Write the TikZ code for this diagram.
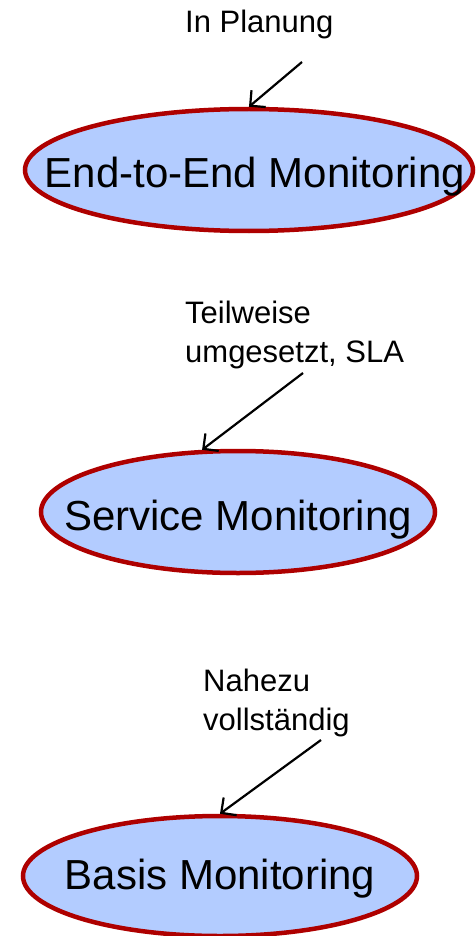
\documentclass[tikz,border=0pt]{standalone}
\usepackage{fontspec}
\setmainfont{Liberation Sans}
\usetikzlibrary{shapes.geometric,arrows.meta}
\definecolor{stagefill}{RGB}{179,204,255}
\definecolor{stagedraw}{RGB}{174,0,0}
\begin{document}
\begin{tikzpicture}[x=1pt, y=-1pt,
    stage/.style={draw=stagedraw, fill=stagefill, line width=4.5pt, ellipse, inner sep=0pt, minimum height=122pt, font=\fontsize{42}{50}\selectfont},
    status/.style={anchor=base west, align=left, inner sep=0pt, font=\fontsize{31}{39}\selectfont},
    pointer/.style={-{Straight Barb[length=11pt,width=22pt]}, line width=2.2pt}]
    \useasboundingbox (0,0) rectangle (476,936);
    \node [stage, minimum width=448pt] (e2e) at (249,170) {\makebox[0pt]{\raisebox{-18pt}[0pt][0pt]{\hspace{12pt}End-to-End Monitoring}}};
    \node [stage, minimum width=394pt] (service) at (238,512) {\makebox[0pt]{\raisebox{-18pt}[0pt][0pt]{Service Monitoring}}};
    \node [stage, minimum width=394pt, minimum height=120pt] (basis) at (220,876) {\makebox[0pt]{\raisebox{-13pt}[0pt][0pt]{Basis Monitoring}}};
    \node [status] (planned) at (185,33) {In Planung};
    \node [status] (partial) at (185,362) {Teilweise\\umgesetzt, SLA};
    \node [status] (almost) at (203,730) {Nahezu\\vollständig};
    \coordinate (planned-tail) at (302,62);
    \coordinate (partial-tail) at (303,373);
    \coordinate (almost-tail) at (321,740);
    \draw [pointer] (planned-tail) -- (e2e.north);
    \draw [pointer] (partial-tail) -- (service.120);
    \draw [pointer] (almost-tail) -- (basis.north);
\end{tikzpicture}
\end{document}
